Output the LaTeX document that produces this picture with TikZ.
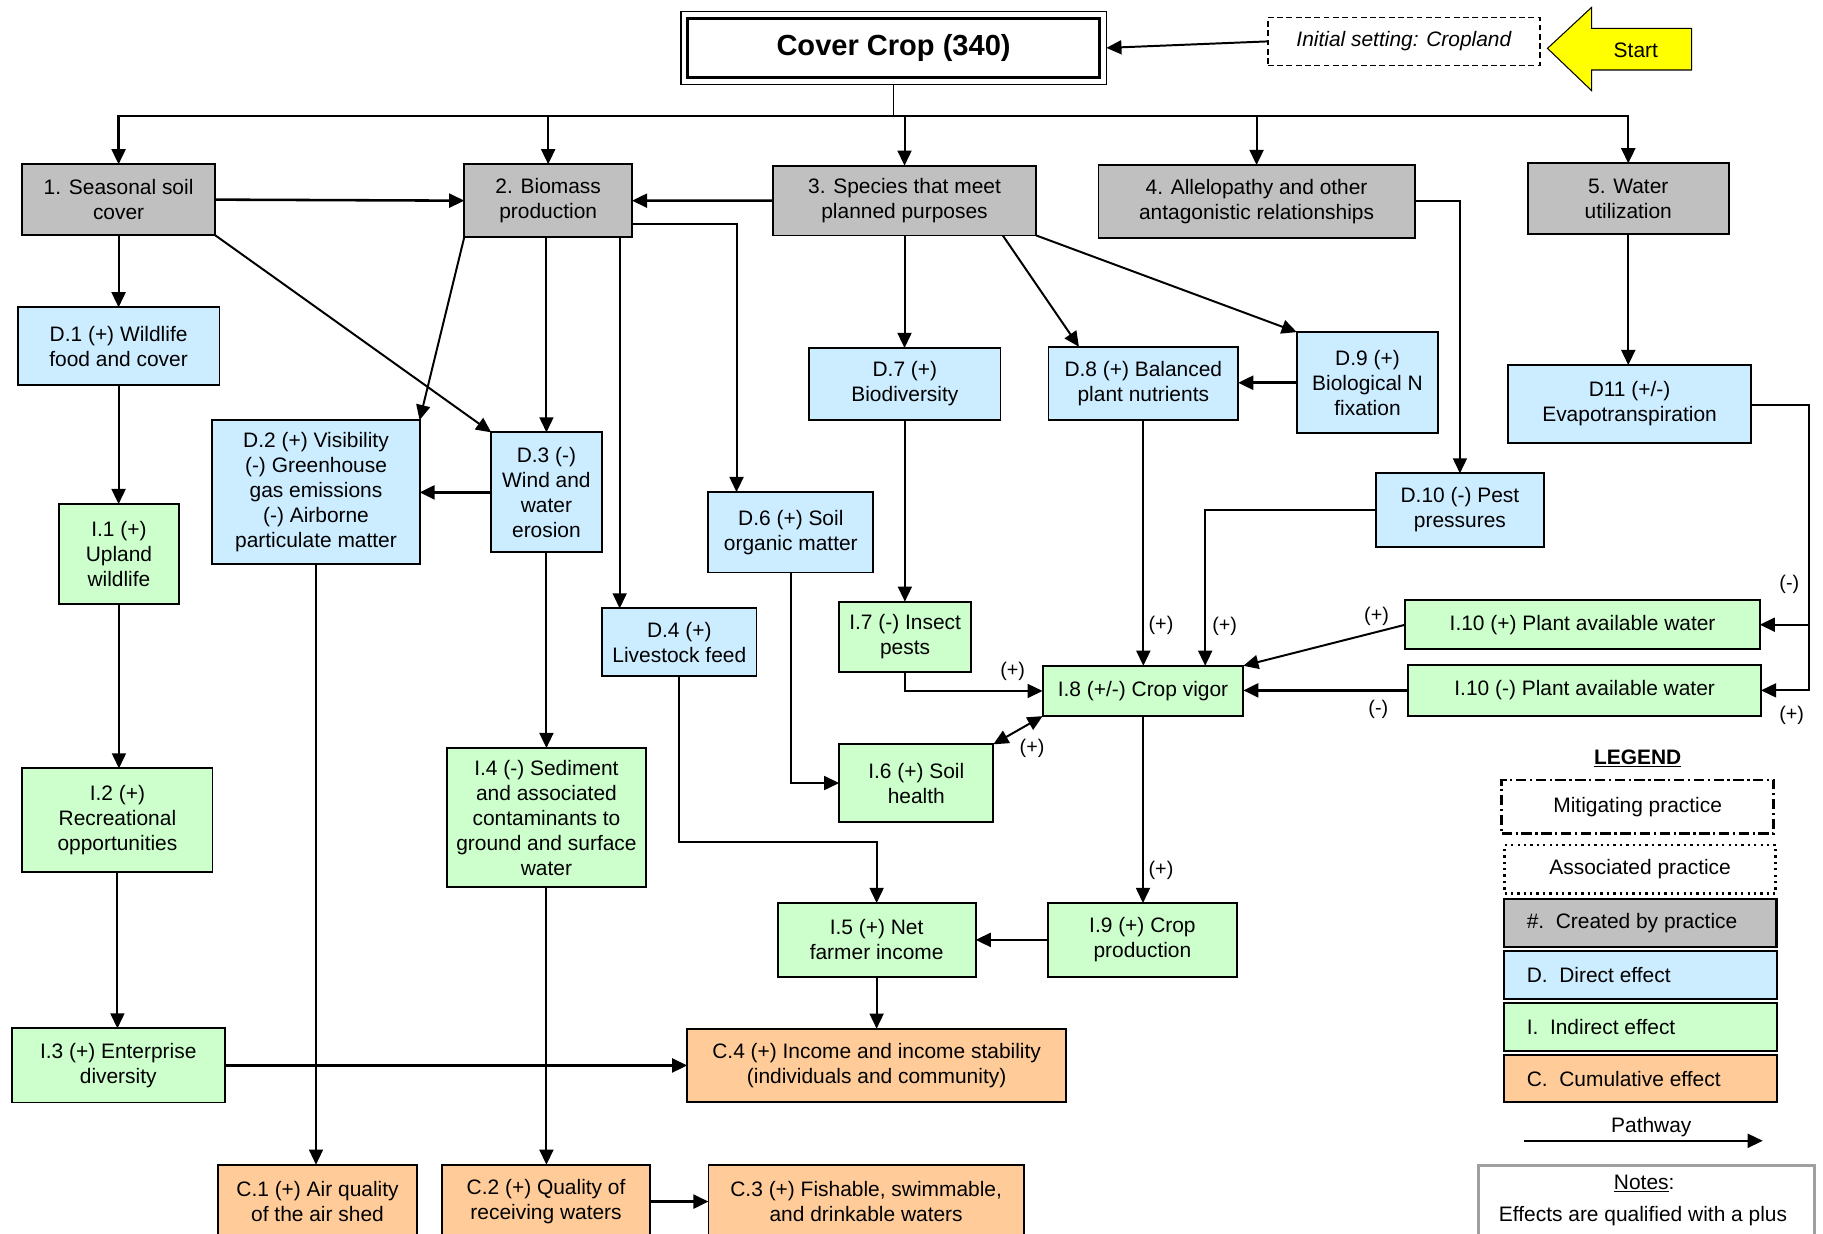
\documentclass[tikz,border=0pt]{standalone}
\usepackage{fontspec}
\setmainfont{Liberation Sans}
\usetikzlibrary{arrows.meta,fit}
\definecolor{cgray}{HTML}{C0C0C0}
\definecolor{cblue}{HTML}{CCECFF}
\definecolor{cgreen}{HTML}{CCFFCC}
\definecolor{corange}{HTML}{FFCC99}
\definecolor{cyellow}{HTML}{FFFF00}
\definecolor{notegray}{HTML}{A0A0A0}
\begin{document}
\begin{tikzpicture}[x=1pt,y=-1pt,
  box/.style={draw, line width=1.6pt, align=center, inner sep=2pt, outer sep=0pt,
     font=\fontsize{18}{21.5}\selectfont},
  pbox/.style={box, fill=cgray},
  dbox/.style={box, fill=cblue},
  ibox/.style={box, fill=cgreen},
  cbox/.style={box, fill=corange},
  arr/.style={-{Triangle[length=13pt,width=12pt]}, line width=1.7pt},
  biarr/.style={{Triangle[length=13pt,width=12pt]}-{Triangle[length=13pt,width=12pt]}, line width=1.7pt},
  lbl/.style={font=\fontsize{17}{20}\selectfont, inner sep=0pt},
  txt/.style={font=\fontsize{18}{21.5}\selectfont, inner sep=0pt},
]
\clip (0,0) rectangle (1568,1061);
\fill[white] (0,0) rectangle (1568,1061);

% ---------- top ----------
\node[draw, line width=2.8pt, minimum width=354pt, minimum height=51pt, outer sep=0pt,
      font=\bfseries\fontsize{25}{30}\selectfont] (cc) at (768.6,41.2) {Cover Crop (340)};
\node[draw, line width=1.3pt, fit=(cc), inner sep=6pt, outer sep=0pt] (cco) {};

\node[draw, dash pattern=on 5pt off 3pt, line width=1.1pt, minimum width=234pt, minimum height=41pt,
      outer sep=0pt, font=\itshape\fontsize{18}{21.5}\selectfont] (init) at (1207.5,35.6) {Initial setting: Cropland};

\draw[fill=cyellow, line width=0.9pt] (1331,41.6) -- (1369,6.3) -- (1369,24.4) -- (1455,24.4)
   -- (1455,60.2) -- (1369,60.2) -- (1369,78) -- cycle;
\node[txt] (start) at (1407,43) {Start};

% ---------- practice row ----------
\node[pbox, minimum width=165.5pt, minimum height=60.8pt] (P1) at (102,171.7) {1. Seasonal soil\\cover};
\node[pbox, minimum width=144.3pt, minimum height=62.6pt] (P2) at (471.5,172.6) {2. Biomass\\production};
\node[pbox, minimum width=226.5pt, minimum height=60pt] (P3) at (778,172.5) {3. Species that meet\\planned purposes};
\node[pbox, minimum width=272pt, minimum height=62.5pt] (P4) at (1080.8,173.2) {4. Allelopathy and other\\antagonistic relationships};
\node[pbox, minimum width=172.6pt, minimum height=60.8pt] (P5) at (1400.5,170.9) {5. Water\\utilization};

% ---------- direct effects ----------
\node[dbox, minimum width=173.7pt, minimum height=67.1pt] (D1) at (102,297.9) {D.1 (+) Wildlife\\food and cover};
\node[dbox, minimum width=164.4pt, minimum height=62pt] (D7) at (778.3,330.3) {D.7 (+)\\Biodiversity};
\node[dbox, minimum width=163.1pt, minimum height=63.1pt] (D8) at (983.4,329.8) {D.8 (+) Balanced\\plant nutrients};
\node[dbox, minimum width=121.6pt, minimum height=87.1pt] (D9) at (1176.2,329.2) {D.9 (+)\\Biological N\\fixation};
\node[dbox, minimum width=209pt, minimum height=66.8pt] (D11) at (1401.6,347.4) {D11 (+/-)\\Evapotranspiration};
\node[dbox, minimum width=178.2pt, minimum height=124.1pt] (D2) at (271.8,423.4) {D.2 (+) Visibility\\ (-) Greenhouse\\gas emissions\\(-) Airborne\\particulate matter};
\node[dbox, minimum width=94.9pt, minimum height=103.2pt] (D3) at (470,423.5) {D.3 (-)\\Wind and\\water\\erosion};
\node[dbox, minimum width=141.8pt, minimum height=69.1pt] (D6) at (680.2,457.8) {D.6 (+) Soil\\organic matter};
\node[dbox, minimum width=132.8pt, minimum height=58.4pt] (D4) at (584.3,552.5) {D.4 (+)\\Livestock feed};
\node[dbox, minimum width=144.4pt, minimum height=63.1pt] (D10) at (1255.7,438.7) {D.10 (-) Pest\\pressures};

% ---------- indirect effects ----------
\node[ibox, minimum width=103.5pt, minimum height=86.3pt] (I1) at (102.3,476.7) {I.1 (+)\\Upland\\wildlife};
\node[ibox, minimum width=163.5pt, minimum height=89.4pt] (I2) at (101,705.6) {I.2 (+)\\Recreational\\opportunities};
\node[ibox, minimum width=183.2pt, minimum height=63.7pt] (I3) at (101.7,916.4) {I.3 (+) Enterprise\\diversity};
\node[ibox, minimum width=171.7pt, minimum height=119.8pt] (I4) at (470,703.3) {I.4 (-) Sediment\\and associated\\contaminants to\\ground and surface\\water};
\node[ibox, minimum width=113.4pt, minimum height=60.8pt] (I7) at (778.5,547.9) {I.7 (-) Insect\\pests};
\node[ibox, minimum width=132.6pt, minimum height=66.6pt] (I6) at (788.1,673.5) {I.6 (+) Soil\\health};
\node[ibox, minimum width=172.6pt, minimum height=43.3pt] (I8) at (983.1,594.3) {I.8 (+/-) Crop vigor};
\node[ibox, minimum width=304.8pt, minimum height=42.4pt] (I10p) at (1361.2,537.3) {I.10 (+) Plant available water};
\node[ibox, minimum width=303.3pt, minimum height=44.2pt] (I10m) at (1363,593.8) {I.10 (-) Plant available water};
\node[ibox, minimum width=170.4pt, minimum height=63.4pt] (I5) at (754,808.4) {I.5 (+) Net\\farmer income};
\node[ibox, minimum width=162.6pt, minimum height=63.4pt] (I9) at (982.6,808.4) {I.9 (+) Crop\\production};

% ---------- cumulative effects ----------
\node[cbox, minimum width=325.9pt, minimum height=63.4pt] (C4) at (754,916.5) {C.4 (+) Income and income stability\\(individuals and community)};
\node[cbox, minimum width=171.6pt, minimum height=63.4pt] (C1) at (273.1,1033.5) {C.1 (+) Air quality\\of the air shed};
\node[cbox, minimum width=179.2pt, minimum height=63.4pt] (C2) at (469.7,1033.5) {C.2 (+) Quality of\\receiving waters};
\node[cbox, minimum width=271.3pt, minimum height=63.4pt] (C3) at (745,1033.5) {C.3 (+) Fishable, swimmable,\\and drinkable waters};

% ---------- helper coordinates ----------
\coordinate (bus) at (768.6,99.5);
\coordinate (x533) at (533,0);
\coordinate (k6) at (633.5,192.4);
\coordinate (a38) at (862.5,0);
\coordinate (b38) at (928,0);
\coordinate (k11) at (1555.6,348.4);
\coordinate (x1037) at (1036.6,0);
\coordinate (k4) at (754,724);
\coordinate (xl) at (1313,0);

% ---------- connectors ----------
\draw[line width=1pt] (cco.south) -- (bus);
\draw[arr, line width=1.9pt] (bus) -| (P1.north);
\draw[arr, line width=1.9pt] (bus) -| (P5.north);
\draw[arr] (P2.north |- bus) -- (P2.north);
\draw[arr] (P3.north |- bus) -- (P3.north);
\draw[arr] (P4.north |- bus) -- (P4.north);
\draw[arr] (init.west) -- (cco.east);

\draw[arr, line width=2.2pt] (P1.east) -- (P2.west);
\draw[arr, line width=2.2pt] (P3.west) -- (P2.east);
\draw[arr] (P1.south) -- (P1.south |- D1.north);
\draw[arr] (P1.south east) -- (D3.north west);
\draw[arr] (P2.south west) -- (D2.north east);
\draw[arr] (P2.south -| D3.north) -- (D3.north);
\draw[arr] (P2.south -| x533) -- (D4.north -| x533);
\draw[arr] (P2.east |- k6) -- (k6) -- (k6 |- D6.north);
\draw[arr] (P3.south) -- (P3.south |- D7.north);
\draw[arr] (P3.south -| a38) -- (D8.north -| b38);
\draw[arr] (P3.south east) -- (D9.north west);
\draw[arr, line width=2.2pt] (D9.west) -- (D8.east |- D9.west);
\draw[arr] (P4.east) -| (D10.north);
\draw[arr] (P5.south) -- (P5.south |- D11.north);
\draw[arr] (D11.east |- k11) -- (k11) |- (I10m.east);
\draw[arr] (k11 |- I10p.east) -- (I10p.east);

\draw[arr] (D10.west) -| (x1037 |- I8.north);
\draw[arr] (D8.south) -- (D8.south |- I8.north);
\draw[arr] (D7.south) -- (D7.south |- I7.north);
\draw[arr] (I7.south) |- (I8.west);
\draw[arr] (D6.south) |- (I6.west);
\draw[biarr] (I6.north east) -- (I8.south west);
\draw[arr] (I10p.west) -- (I8.north east);
\draw[arr, line width=2.2pt] (I10m.west) -- (I8.east |- I10m.west);
\draw[arr] (I8.south) -- (I8.south |- I9.north);
\draw[arr, line width=2.2pt] (I9.west) -- (I5.east);
\draw[arr] (D4.south) |- (k4) -- (I5.north);
\draw[arr] (I5.south) -- (C4.north);
\draw[arr, line width=2.2pt] (I3.east) -- (C4.west |- I3.east);

\draw[arr] (D1.south) -- (D1.south |- I1.north);
\draw[arr] (I1.south) -- (I1.south |- I2.north);
\draw[arr] (I2.south) -- (I2.south |- I3.north);
\draw[arr, line width=2.2pt] (D3.west) -- (D2.east |- D3.west);
\draw[arr] (D3.south) -- (I4.north);
\draw[arr, line width=1.4pt] (D2.south) -- (D2.south |- C1.north);
\draw[arr] (I4.south) -- (I4.south |- C2.north);
\draw[arr, line width=2.2pt] (C2.east) -- (C3.west);

% ---------- labels ----------
\node[lbl] (l1) at (998.6,537.6) {(+)};
\node[lbl] (l2) at (1053.3,539) {(+)};
\node[lbl] (l3) at (1184,529.9) {(+)};
\node[lbl] (l4) at (1185.5,610.1) {(-)};
\node[lbl] (l5) at (871,577.7) {(+)};
\node[lbl] (l6) at (887.7,643.7) {(+)};
\node[lbl] (l7) at (998.6,748.3) {(+)};
\node[lbl] (l8) at (1539,503) {(-)};
\node[lbl] (l9) at (1541,615) {(+)};

% ---------- legend ----------
\node[txt, font=\bfseries\fontsize{18}{21.5}\selectfont] (leg) at (1408.6,652.3) {\underline{LEGEND}};
\node[box, fill=white, line width=2.4pt, dash pattern=on 9pt off 3pt on 2pt off 3pt,
      minimum width=234.2pt, minimum height=45.9pt] (lmit) at (1408.6,693.9) {Mitigating practice};
\node[box, fill=white, line width=2.4pt, dash pattern=on 2pt off 3.5pt,
      minimum width=233.3pt, minimum height=41.6pt] (lass) at (1410.7,747.6) {Associated practice};
\node[pbox, line width=2pt, minimum width=234.3pt, minimum height=41pt] (lcre) at (1410.7,793.8) {};
\node[dbox, line width=2pt, minimum width=235.2pt, minimum height=41.3pt] (ldir) at (1411.1,838.7) {};
\node[ibox, line width=2pt, minimum width=235.2pt, minimum height=41.2pt] (lind) at (1411.1,883.1) {};
\node[cbox, line width=2pt, minimum width=235.2pt, minimum height=40.4pt] (lcum) at (1411.1,927.7) {};
\node[txt, anchor=west] (lcret) at (lcre.center -| xl) {\#.\ \ Created by practice};
\node[txt, anchor=west] (ldirt) at (ldir.center -| xl) {D.\ \ Direct effect};
\node[txt, anchor=west] (lindt) at (lind.center -| xl) {I.\ \ Indirect effect};
\node[txt, anchor=west] (lcumt) at (lcum.center -| xl) {C.\ \ Cumulative effect};
\node[txt] (lpath) at (1420.3,969) {Pathway};
\coordinate (pa) at (1310.7,981.2);
\coordinate (pb) at (1516.2,981.2);
\draw[arr] (pa) -- (pb);

\node[draw=notegray, line width=2.4pt, minimum width=289.3pt, minimum height=90pt, anchor=north, outer sep=0pt] (notes) at (1416,1002.6) {};
\node[txt] (notest) at (1414.2,1017.8) {\underline{Notes}:};
\node[txt] (notesb) at (1413.2,1045.9) {Effects are qualified with a plus};
\end{tikzpicture}
\end{document}
